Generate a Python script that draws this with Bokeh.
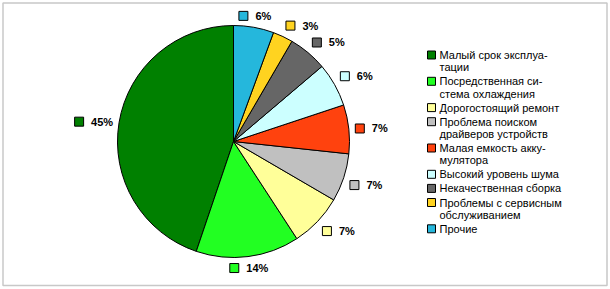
import math
from bokeh.plotting import figure
from bokeh.models import Range1d, ColumnDataSource
from bokeh.embed import file_html
from bokeh.resources import INLINE
from bokeh.core.properties import value

# ---- data (legend order; drawn counter-clockwise from 12 o'clock) ----
categories = [
    "Малый срок эксплуа-\nтации",
    "Посредственная си-\nстема охлаждения",
    "Дорогостоящий ремонт",
    "Проблема поиском\nдрайверов устройств",
    "Малая емкость акку-\nмулятора",
    "Высокий уровень шума",
    "Некачественная сборка",
    "Проблемы с сервисным\nобслуживанием",
    "Прочие",
]
values = [44.8, 14.4, 7.4, 6.7, 6.8, 6.1, 5.4, 2.8, 5.6]
colors = ["#008000", "#22FF22", "#FFFF99", "#C0C0C0", "#FF420E",
          "#CCFFFF", "#666666", "#FFD320", "#25B7DC"]

W, H = 610, 289
FONT = "Liberation Sans"

p = figure(width=W, height=H, x_range=Range1d(0, W), y_range=Range1d(0, H),
           output_backend="svg", toolbar_location=None, min_border=0,
           outline_line_color=None)
p.axis.visible = False
p.grid.visible = False
p.background_fill_color = "white"
p.border_fill_color = "white"

# frame
p.quad(left=2.5, right=606.5, bottom=H - 285, top=H - 2.5,
       fill_color=None, line_color="#C8C8C8", line_width=1.5)

# ---- pie ----
cx, cy, r = 233, H - 141, 116
total = sum(values)
starts, ends = [], []
acc = 0.0
for v in values:
    starts.append(math.pi / 2 + 2 * math.pi * acc / total)
    acc += v
    ends.append(math.pi / 2 + 2 * math.pi * acc / total)

src = ColumnDataSource(dict(start=starts, end=ends, color=colors))
p.wedge(x=cx, y=cy, radius=r, start_angle="start", end_angle="end",
        direction="anticlock", fill_color="color", line_color="black",
        line_width=1, source=src)

# ---- data labels ----
def align(u):
    s = 1 if u >= 0 else -1
    return s * min(max((abs(u) - 0.2) / 0.1, 0.0), 1.0)

R = r + 6
sq_x, sq_y, lt_x, lt_y, lt = [], [], [], [], []
for v, s, e in zip(values, starts, ends):
    mid = (s + e) / 2
    ux, uy = math.cos(mid), math.sin(mid)
    ax, ay = cx + R * ux, cy + R * uy
    txt = f"{round(v / total * 100)}%"
    tw = 6.1 * (len(txt) - 1) + 9.8
    bw = 17 + tw
    hh = 5.5
    bcx = ax + align(ux) * bw / 2
    bcy = ay + align(uy) * hh
    left = bcx - bw / 2
    sq_x.append(left + 5)
    sq_y.append(bcy)
    lt_x.append(left + 17)
    lt_y.append(bcy)
    lt.append(txt)

p.rect(x=sq_x, y=sq_y, width=9, height=9, fill_color=colors,
       line_color="black", line_width=1)
p.text(x=lt_x, y=lt_y, text=lt, text_font=value(FONT), text_font_size="11px",
       text_font_style="bold", text_baseline="middle", text_align="left",
       text_color="black")

# ---- legend ----
L, G = 12.2, 1.9
y0 = 54.5
lg_sq_y, lg_tx, lg_ty, lg_t = [], [], [], []
yy = y0
for cat in categories:
    lines = cat.split("\n")
    lg_sq_y.append(H - yy)
    for j, ln in enumerate(lines):
        lg_ty.append(H - (yy + j * L))
        lg_t.append(ln)
    yy += len(lines) * L + G

p.rect(x=431, y=lg_sq_y, width=8, height=8, fill_color=colors,
       line_color="black", line_width=1)
p.text(x=439, y=lg_ty, text=lg_t, text_font=value(FONT), text_font_size="11px",
       text_baseline="middle", text_align="left", text_color="black")

open("out.html", "w").write(file_html(p, INLINE))
